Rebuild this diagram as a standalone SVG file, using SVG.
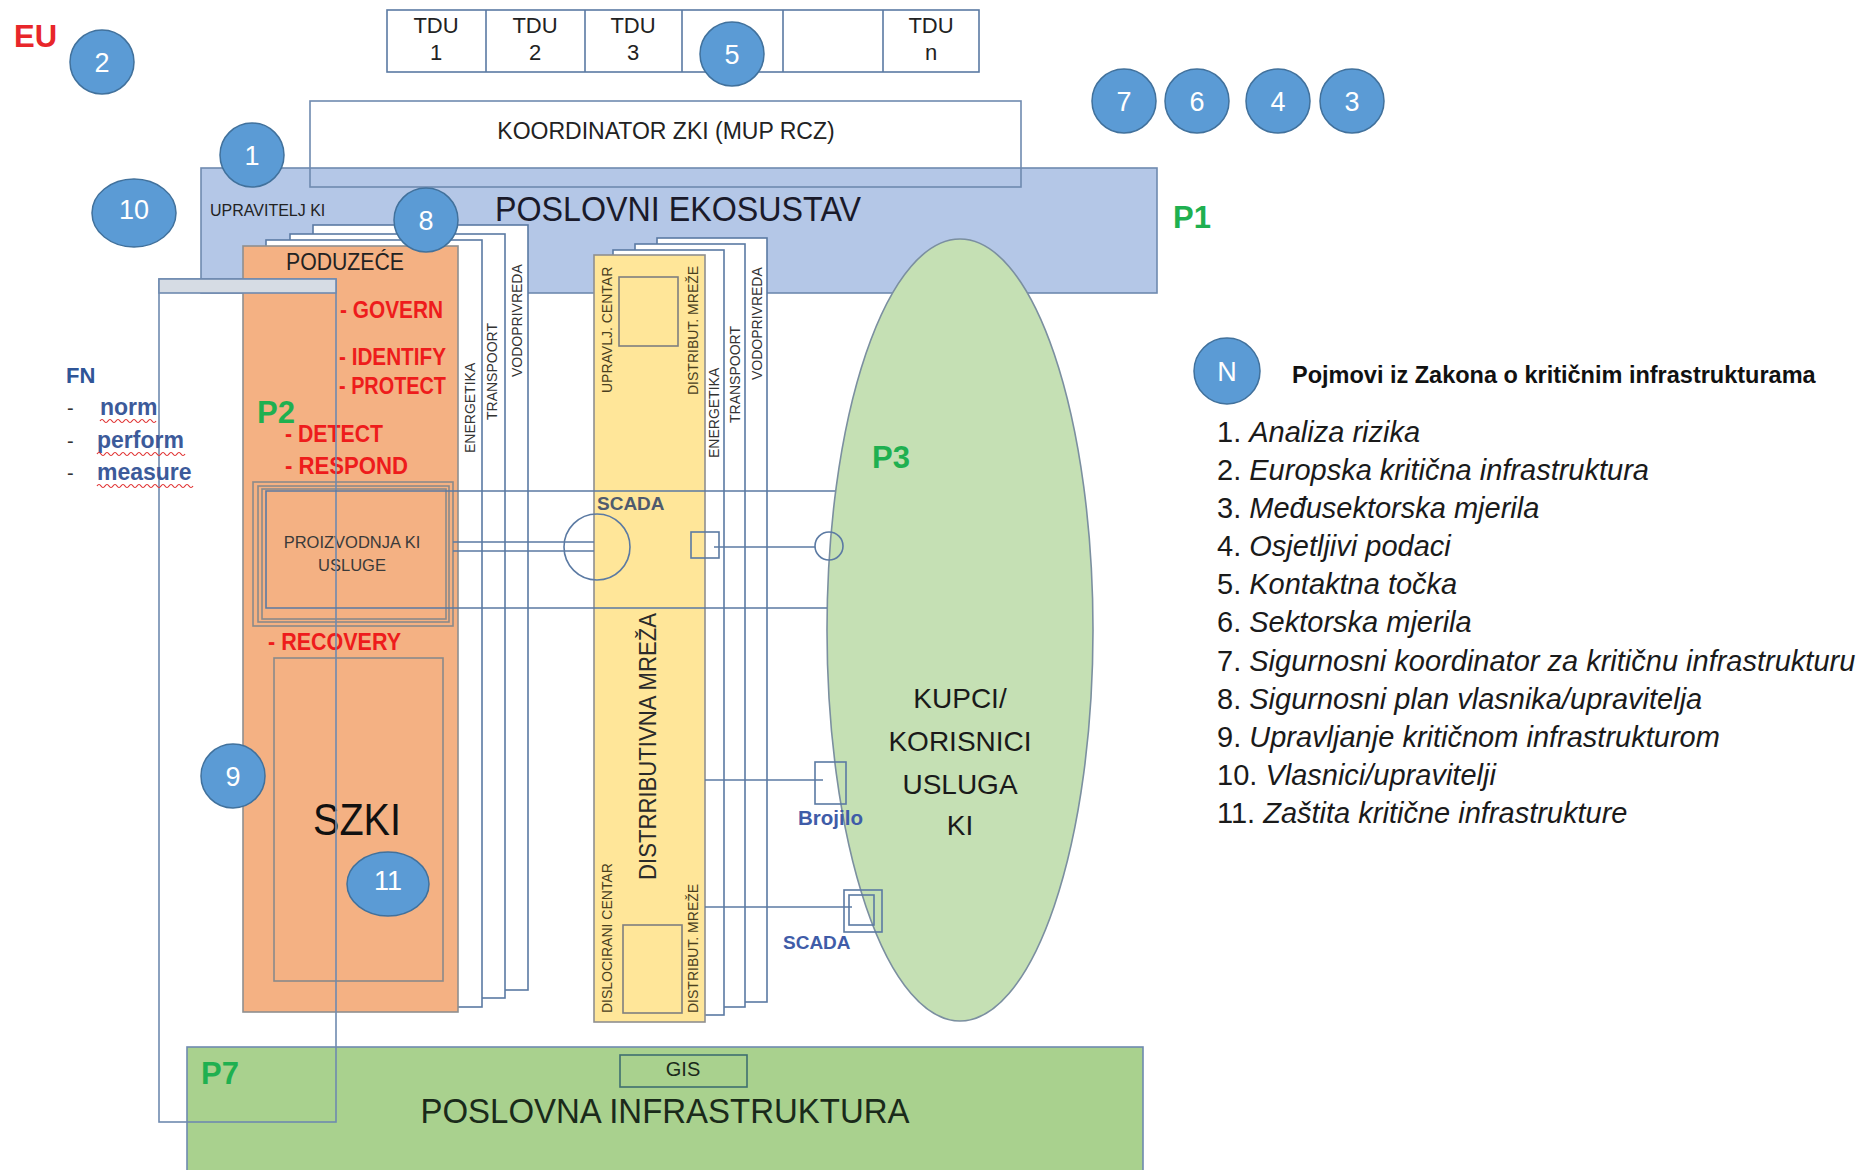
<svg xmlns="http://www.w3.org/2000/svg" width="1870" height="1170" viewBox="0 0 1870 1170">
<style>
  text { font-family: "Liberation Sans", Arial, sans-serif; }
  .page { fill: #ffffff; stroke: #5b7aa3; stroke-width: 1.6; }
  .wire { fill: none; stroke: #5b7aa3; stroke-width: 1.6; }
  .frame { fill: none; stroke: #8a8a8a; stroke-width: 1.6; }
  .badge { fill: #5b9bd5; stroke: #41719c; stroke-width: 1.5; }
  .bt { fill: #ffffff; font-size: 27px; text-anchor: middle; }
  .red { fill: #ee1c1c; font-weight: bold; font-size: 23px; }
  .pl { fill: #1fb050; font-weight: bold; font-size: 31px; }
  .vt { font-size: 14px; fill: #333333; }
  .vy { font-size: 14px; fill: #4a3f1e; }
  .fn { fill: #3c5a9a; font-weight: bold; font-size: 23px; }
  .sq { fill: none; stroke: #e03030; stroke-width: 1.2; }
  .li { font-size: 29px; fill: #1a1a1a; }
  .it { font-style: italic; }
  .dk { fill: #222222; }
</style>

<rect width="1870" height="1170" fill="#ffffff"/>

<!-- EU label -->
<g id="eu">
  <text x="14" y="47" font-size="31" font-weight="bold" fill="#e8262a">EU</text>
</g>

<!-- TDU table -->
<g id="tdu-table">
  <rect x="387" y="10" width="592" height="62" fill="#ffffff" stroke="#5b7aa3" stroke-width="1.6"/>
  <path d="M486 10V72M585 10V72M682 10V72M783 10V72M883 10V72" class="wire"/>
  <g font-size="22" text-anchor="middle" fill="#222222">
    <text x="436" y="33">TDU</text><text x="436" y="60">1</text>
    <text x="535" y="33">TDU</text><text x="535" y="60">2</text>
    <text x="633" y="33">TDU</text><text x="633" y="60">3</text>
    <text x="931" y="33">TDU</text><text x="931" y="60">n</text>
  </g>
</g>

<!-- Business ecosystem band -->
<g id="poslovni-ekosustav">
  <rect x="201" y="168" width="956" height="125" fill="#b4c7e7" stroke="#6f8ab0" stroke-width="1.6"/>
  <text x="210" y="216" font-size="16" class="dk">UPRAVITELJ KI</text>
  <text x="678" y="221" font-size="35" text-anchor="middle" textLength="366" lengthAdjust="spacingAndGlyphs" fill="#1a1a2a">POSLOVNI EKOSUSTAV</text>
  <text x="1173" y="228" class="pl">P1</text>
</g>

<!-- Coordinator box -->
<g id="koordinator">
  <rect x="310" y="101" width="711" height="86" fill="none" stroke="#6f8ab0" stroke-width="1.6"/>
  <text x="666" y="139" font-size="23" text-anchor="middle" class="dk">KOORDINATOR ZKI (MUP RCZ)</text>
</g>

<!-- Customers ellipse -->
<g id="kupci">
  <ellipse cx="960" cy="630" rx="133" ry="391" fill="#c5e0b4" stroke="#7b8fa0" stroke-width="1.6"/>
  <text x="872" y="468" class="pl">P3</text>
  <g font-size="28" text-anchor="middle" fill="#1a1a1a">
    <text x="960" y="708">KUPCI/</text>
    <text x="960" y="751">KORISNICI</text>
    <text x="960" y="794">USLUGA</text>
    <text x="960" y="835">KI</text>
  </g>
</g>

<!-- Enterprise stack -->
<g id="poduzece">
  <rect x="313" y="225" width="215" height="765" class="page"/>
  <rect x="290" y="234" width="215" height="764" class="page"/>
  <rect x="266" y="240" width="216" height="767" class="page"/>
  <text transform="translate(522 377) rotate(-90)" class="vt">VODOPRIVREDA</text>
  <text transform="translate(497 420) rotate(-90)" class="vt">TRANSPOORT</text>
  <text transform="translate(475 453) rotate(-90)" class="vt">ENERGETIKA</text>
  <rect x="243" y="246" width="215" height="766" fill="#f4b183" stroke="#8f8f8f" stroke-width="1.6"/>
  <text x="345" y="270" font-size="23" text-anchor="middle" textLength="118" lengthAdjust="spacingAndGlyphs" class="dk">PODUZEĆE</text>
  <text x="340" y="318" class="red" textLength="103" lengthAdjust="spacingAndGlyphs">- GOVERN</text>
  <text x="339" y="365" class="red" textLength="107" lengthAdjust="spacingAndGlyphs">- IDENTIFY</text>
  <text x="339" y="394" class="red" textLength="107" lengthAdjust="spacingAndGlyphs">- PROTECT</text>
  <text x="257" y="423" class="pl" font-size="30">P2</text>
  <text x="285" y="442" class="red" textLength="98" lengthAdjust="spacingAndGlyphs">- DETECT</text>
  <text x="285" y="474" class="red" textLength="123" lengthAdjust="spacingAndGlyphs">- RESPOND</text>
  <text x="268" y="650" class="red" textLength="133" lengthAdjust="spacingAndGlyphs">- RECOVERY</text>
</g>

<!-- Service production block -->
<g id="proizvodnja">
  <rect x="253" y="482" width="200" height="144" class="frame"/>
  <rect x="258" y="486" width="191" height="136" class="frame"/>
  <rect x="262" y="489" width="184" height="130" class="frame"/>
  <text x="352" y="548" font-size="16.5" text-anchor="middle" fill="#3a3a3a">PROIZVODNJA KI</text>
  <text x="352" y="571" font-size="16.5" text-anchor="middle" fill="#3a3a3a">USLUGE</text>
</g>

<!-- SZKI block -->
<g id="szki">
  <rect x="274" y="658" width="169" height="323" class="frame"/>
  <text x="357" y="835" font-size="44" text-anchor="middle" textLength="88" lengthAdjust="spacingAndGlyphs" fill="#111111">SZKI</text>
</g>

<!-- Distribution network stack -->
<g id="distributivna-mreza">
  <rect x="657" y="238" width="110" height="764" class="page"/>
  <rect x="635" y="244" width="110" height="763" class="page"/>
  <rect x="613" y="250" width="111" height="765" class="page"/>
  <text transform="translate(762 380) rotate(-90)" class="vt">VODOPRIVREDA</text>
  <text transform="translate(740 423) rotate(-90)" class="vt">TRANSPOORT</text>
  <text transform="translate(719 458) rotate(-90)" class="vt">ENERGETIKA</text>
  <rect x="594" y="255" width="111" height="767" fill="#ffe699" stroke="#8f8f8f" stroke-width="1.6"/>
  <rect x="619" y="277" width="59" height="69" fill="none" stroke="#7f7f7f" stroke-width="1.6"/>
  <rect x="623" y="925" width="59" height="88" fill="none" stroke="#7f7f7f" stroke-width="1.6"/>
  <text transform="translate(612 393) rotate(-90)" class="vy">UPRAVLJ. CENTAR</text>
  <text transform="translate(698 395) rotate(-90)" class="vy">DISTRIBUT. MREŽE</text>
  <text transform="translate(656 880) rotate(-90)" font-size="23" textLength="267" lengthAdjust="spacingAndGlyphs" fill="#2a2a2a">DISTRRIBUTIVNA MREŽA</text>
  <text transform="translate(612 1013) rotate(-90)" class="vy">DISLOCIRANI CENTAR</text>
  <text transform="translate(698 1013) rotate(-90)" class="vy">DISTRIBUT. MREŽE</text>
  <text x="597" y="510" font-size="19" font-weight="bold" fill="#4f5b6e">SCADA</text>
</g>

<!-- Business infrastructure band -->
<g id="poslovna-infrastruktura">
  <rect x="187" y="1047" width="956" height="140" fill="#a9d18e" stroke="#6f8ab0" stroke-width="1.6"/>
  <rect x="620" y="1055" width="127" height="32" fill="none" stroke="#3f6f70" stroke-width="1.6"/>
  <text x="683" y="1076" font-size="20" text-anchor="middle" fill="#1a2a1a">GIS</text>
  <text x="665" y="1123" font-size="35" text-anchor="middle" textLength="489" lengthAdjust="spacingAndGlyphs" fill="#1a2a1a">POSLOVNA INFRASTRUKTURA</text>
  <text x="201" y="1084" class="pl">P7</text>
</g>

<!-- Owners frame -->
<g id="upravitelji-okvir">
  <rect x="159" y="279" width="177" height="843" fill="none" stroke="#6f8ab0" stroke-width="1.6"/>
  <rect x="159" y="279" width="177" height="14" fill="#d6dce4" stroke="#6f8ab0" stroke-width="1.6"/>
</g>

<!-- Connectors -->
<g id="connectors">
  <path d="M835 491H266V608H827" class="wire"/>
  <path d="M453 542H594M453 551H594" class="wire"/>
  <circle cx="597" cy="547" r="33" class="wire"/>
  <rect x="691" y="532" width="28" height="26" class="wire"/>
  <path d="M714 547H815" class="wire"/>
  <circle cx="829" cy="546" r="14" class="wire"/>
  <path d="M705 780H823" class="wire"/>
  <rect x="815" y="762" width="31" height="42" class="wire"/>
  <path d="M705 907H852" class="wire"/>
  <rect x="844" y="890" width="38" height="42" class="wire"/>
  <rect x="849" y="895" width="25" height="30" class="wire"/>
  <text x="798" y="825" font-size="20" font-weight="bold" fill="#3f5ca8" textLength="65" lengthAdjust="spacingAndGlyphs">Brojilo</text>
  <text x="783" y="949" font-size="19" font-weight="bold" fill="#3f5ca8">SCADA</text>
</g>

<!-- FN list -->
<g id="fn">
  <text x="66" y="383" font-size="22" font-weight="bold" fill="#2f5597">FN</text>
  <g font-size="20" fill="#333333">
    <text x="67" y="415">-</text><text x="67" y="448">-</text><text x="67" y="480">-</text>
  </g>
  <text x="100" y="415" class="fn">norm</text>
  <text x="97" y="448" class="fn">perform</text>
  <text x="97" y="480" class="fn">measure</text>
  <path class="sq" d="M100 421q2 -3 4 0t4 0t4 0t4 0t4 0t4 0t4 0t4 0t4 0t4 0t4 0t4 0t4 0t4 0"/>
  <path class="sq" d="M97 454q2 -3 4 0t4 0t4 0t4 0t4 0t4 0t4 0t4 0t4 0t4 0t4 0t4 0t4 0t4 0t4 0t4 0t4 0t4 0t4 0t4 0t4 0t4 0"/>
  <path class="sq" d="M97 486q2 -3 4 0t4 0t4 0t4 0t4 0t4 0t4 0t4 0t4 0t4 0t4 0t4 0t4 0t4 0t4 0t4 0t4 0t4 0t4 0t4 0t4 0t4 0t4 0t4 0"/>
</g>

<!-- Numbered badges -->
<g id="badge-2"><circle cx="102" cy="62" r="32" class="badge"/><text x="102" y="72" class="bt">2</text></g>
<g id="badge-5"><circle cx="732" cy="54" r="32" class="badge"/><text x="732" y="64" class="bt">5</text></g>
<g id="badge-7"><circle cx="1124" cy="101" r="32" class="badge"/><text x="1124" y="111" class="bt">7</text></g>
<g id="badge-6"><circle cx="1197" cy="101" r="32" class="badge"/><text x="1197" y="111" class="bt">6</text></g>
<g id="badge-4"><circle cx="1278" cy="101" r="32" class="badge"/><text x="1278" y="111" class="bt">4</text></g>
<g id="badge-3"><circle cx="1352" cy="101" r="32" class="badge"/><text x="1352" y="111" class="bt">3</text></g>
<g id="badge-1"><circle cx="252" cy="155" r="32" class="badge"/><text x="252" y="165" class="bt">1</text></g>
<g id="badge-10"><ellipse cx="134" cy="213" rx="42" ry="34" class="badge"/><text x="134" y="219" class="bt" font-size="17">10</text></g>
<g id="badge-8"><circle cx="426" cy="220" r="32" class="badge"/><text x="426" y="230" class="bt">8</text></g>
<g id="badge-9"><circle cx="233" cy="776" r="32" class="badge"/><text x="233" y="786" class="bt">9</text></g>
<g id="badge-11"><ellipse cx="388" cy="884" rx="41" ry="32" class="badge"/><text x="388" y="890" class="bt" font-size="18">11</text></g>

<!-- Legend -->
<g id="legend">
  <circle cx="1227" cy="371" r="33" class="badge"/>
  <text x="1227" y="381" class="bt" font-size="28">N</text>
  <text x="1292" y="383" font-size="23.5" font-weight="bold" fill="#111111">Pojmovi iz Zakona o kritičnim infrastrukturama</text>
  <text x="1217" y="442" class="li">1. <tspan class="it">Analiza rizika</tspan></text>
  <text x="1217" y="480" class="li">2. <tspan class="it">Europska kritična infrastruktura</tspan></text>
  <text x="1217" y="518" class="li">3. <tspan class="it">Međusektorska mjerila</tspan></text>
  <text x="1217" y="556" class="li">4. <tspan class="it">Osjetljivi podaci</tspan></text>
  <text x="1217" y="594" class="li">5. <tspan class="it">Kontaktna točka</tspan></text>
  <text x="1217" y="632" class="li">6. <tspan class="it">Sektorska mjerila</tspan></text>
  <text x="1217" y="671" class="li">7. <tspan class="it">Sigurnosni koordinator za kritičnu infrastrukturu</tspan></text>
  <text x="1217" y="709" class="li">8. <tspan class="it">Sigurnosni plan vlasnika/upravitelja</tspan></text>
  <text x="1217" y="747" class="li">9. <tspan class="it">Upravljanje kritičnom infrastrukturom</tspan></text>
  <text x="1217" y="785" class="li">10. <tspan class="it">Vlasnici/upravitelji</tspan></text>
  <text x="1217" y="823" class="li">11. <tspan class="it">Zaštita kritične infrastrukture</tspan></text>
</g>
</svg>
